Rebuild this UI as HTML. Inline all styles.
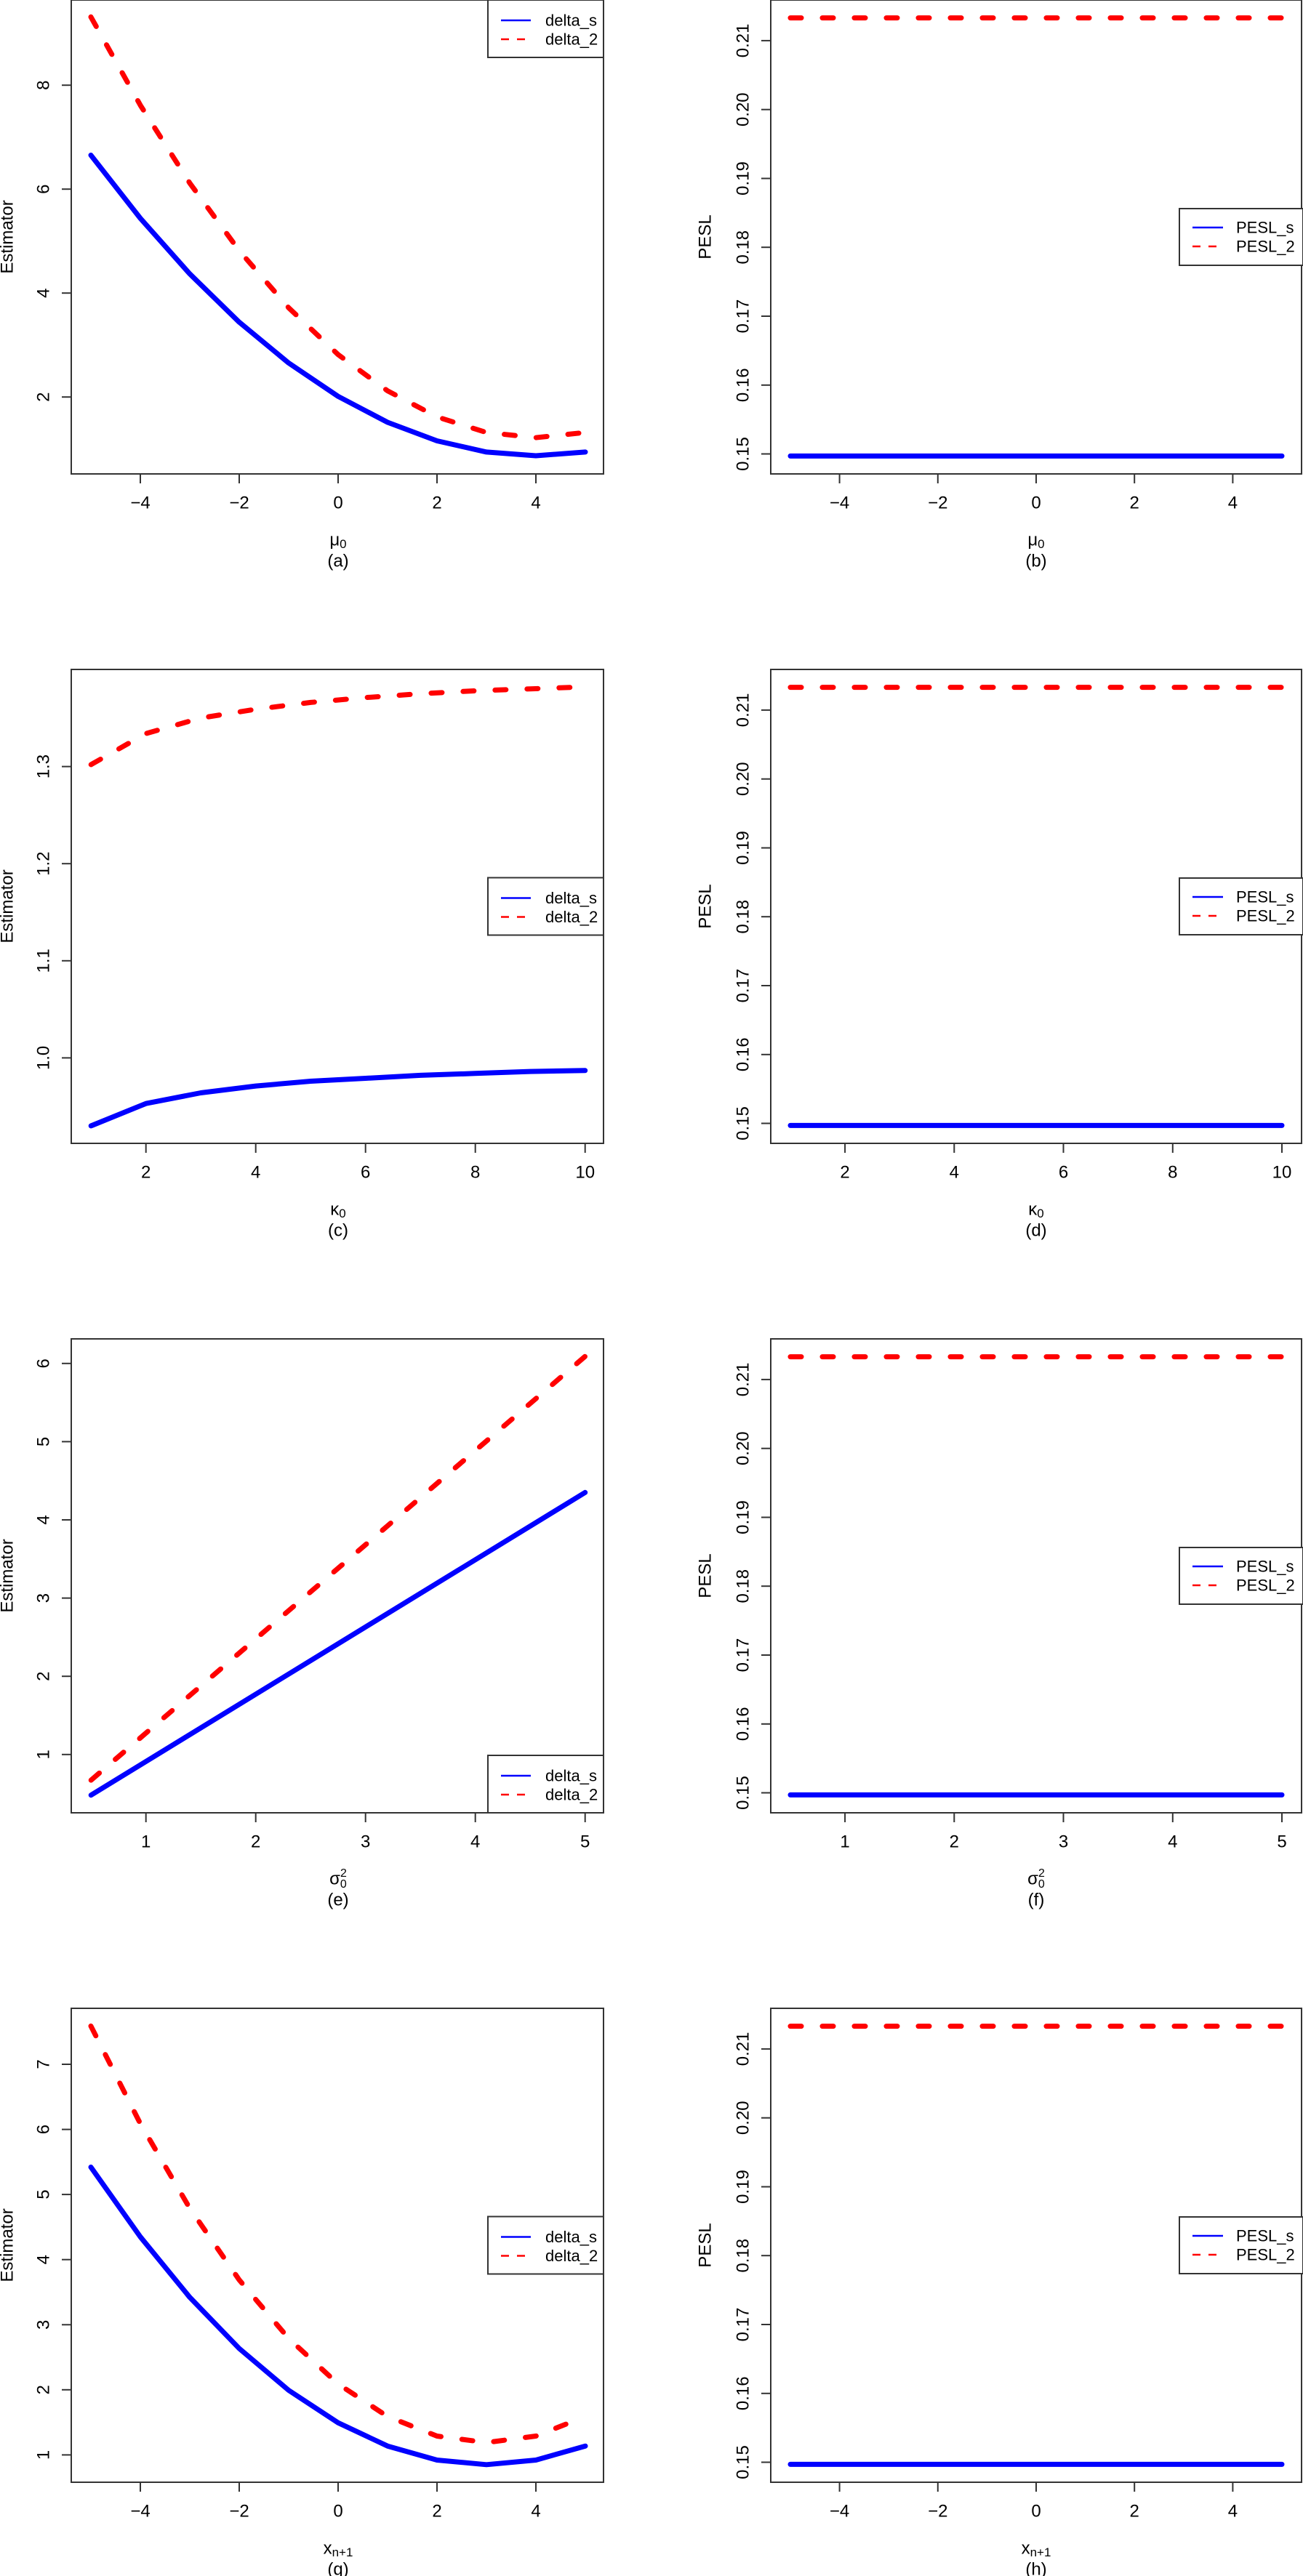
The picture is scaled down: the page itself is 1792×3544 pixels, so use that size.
<!DOCTYPE html>
<html><head><meta charset="utf-8"><style>
html,body{margin:0;padding:0;background:#fff}
svg{display:block}
text{font-family:"Liberation Sans",Arial,sans-serif;font-size:24px;fill:#000}
text.L{font-size:22px}
.ax{stroke:#333;stroke-width:2;fill:none}
.tk{stroke:#333;stroke-width:2}
.bl{stroke:#0000ff;stroke-width:7;fill:none;stroke-linejoin:round;stroke-linecap:round}
.rd{stroke:#ff0000;stroke-width:7;fill:none;stroke-linejoin:round;stroke-linecap:round;stroke-dasharray:15 29}
.lb{stroke:#0000ff;stroke-width:2.5}
.lr{stroke:#ff0000;stroke-width:2.5;stroke-dasharray:11 11}
.lg{fill:#fff;stroke:#333;stroke-width:2}
</style></head><body>
<svg width="1792" height="3544" viewBox="0 0 1792 3544" xmlns="http://www.w3.org/2000/svg">

<!-- ===== Row 1 ===== -->
<g transform="translate(0,0)">
 <rect class="ax" x="98" y="0" width="732" height="652"/>
 <g class="tk">
  <line x1="193" y1="652" x2="193" y2="665"/><line x1="329" y1="652" x2="329" y2="665"/><line x1="465" y1="652" x2="465" y2="665"/><line x1="601" y1="652" x2="601" y2="665"/><line x1="737" y1="652" x2="737" y2="665"/>
  <line x1="85" y1="546.2" x2="98" y2="546.2"/><line x1="85" y1="403.2" x2="98" y2="403.2"/><line x1="85" y1="260.2" x2="98" y2="260.2"/><line x1="85" y1="117.2" x2="98" y2="117.2"/>
 </g>
 <g text-anchor="middle" dominant-baseline="central">
  <text x="193" y="692">−4</text><text x="329" y="692">−2</text><text x="465" y="692">0</text><text x="601" y="692">2</text><text x="737" y="692">4</text>
  <text transform="translate(60,546.2) rotate(-90)">2</text><text transform="translate(60,403.2) rotate(-90)">4</text><text transform="translate(60,260.2) rotate(-90)">6</text><text transform="translate(60,117.2) rotate(-90)">8</text>
  <text transform="translate(10,326) rotate(-90)">Estimator</text>
  <text x="465" y="743">μ<tspan font-size="17" dy="5">0</tspan></text>
  <text x="465" y="772">(a)</text>
 </g>
 <polyline class="bl" points="125,213.5 193,300.3 261,376.8 329,443.2 397,499.4 465,545.3 533,581 601,606.5 669,621.9 737,627 805,621.9"/>
 <polyline class="rd" points="125,23.3 193,144.7 261,251.9 329,344.9 397,423.4 465,487.8 533,537.7 601,573.5 669,595 737,602.1 805,595"/>
 <rect class="lg" x="671" y="0" width="159" height="79"/>
 <line class="lb" x1="689" y1="28" x2="730" y2="28"/><line class="lr" x1="689" y1="54" x2="730" y2="54"/>
 <text class="L" x="750" y="28" dominant-baseline="central">delta_s</text><text class="L" x="750" y="54" dominant-baseline="central">delta_2</text>

 <!-- (b) -->
 <rect class="ax" x="1060" y="0" width="730" height="652"/>
 <g class="tk">
  <line x1="1154.6" y1="652" x2="1154.6" y2="665"/><line x1="1289.8" y1="652" x2="1289.8" y2="665"/><line x1="1425" y1="652" x2="1425" y2="665"/><line x1="1560.2" y1="652" x2="1560.2" y2="665"/><line x1="1695.4" y1="652" x2="1695.4" y2="665"/>
  <line x1="1047" y1="624.5" x2="1060" y2="624.5"/><line x1="1047" y1="529.8" x2="1060" y2="529.8"/><line x1="1047" y1="435" x2="1060" y2="435"/><line x1="1047" y1="340.2" x2="1060" y2="340.2"/><line x1="1047" y1="245.5" x2="1060" y2="245.5"/><line x1="1047" y1="150.7" x2="1060" y2="150.7"/><line x1="1047" y1="55.9" x2="1060" y2="55.9"/>
 </g>
 <g text-anchor="middle" dominant-baseline="central">
  <text x="1154.6" y="692">−4</text><text x="1289.8" y="692">−2</text><text x="1425" y="692">0</text><text x="1560.2" y="692">2</text><text x="1695.4" y="692">4</text>
  <text transform="translate(1022,624.5) rotate(-90)">0.15</text><text transform="translate(1022,529.8) rotate(-90)">0.16</text><text transform="translate(1022,435) rotate(-90)">0.17</text><text transform="translate(1022,340.2) rotate(-90)">0.18</text><text transform="translate(1022,245.5) rotate(-90)">0.19</text><text transform="translate(1022,150.7) rotate(-90)">0.20</text><text transform="translate(1022,55.9) rotate(-90)">0.21</text>
  <text transform="translate(970,326) rotate(-90)">PESL</text>
  <text x="1425" y="743">μ<tspan font-size="17" dy="5">0</tspan></text>
  <text x="1425" y="772">(b)</text>
 </g>
 <line class="bl" x1="1087" y1="627.4" x2="1763" y2="627.4"/>
 <line class="rd" x1="1087" y1="24.6" x2="1763" y2="24.6"/>
 <rect class="lg" x="1622" y="287" width="170" height="78"/>
 <line class="lb" x1="1640" y1="313" x2="1682" y2="313"/><line class="lr" x1="1640" y1="339" x2="1682" y2="339"/>
 <text class="L" x="1700" y="313" dominant-baseline="central">PESL_s</text><text class="L" x="1700" y="339" dominant-baseline="central">PESL_2</text>
</g>

<!-- ===== Row 2 ===== -->
<g transform="translate(0,921)">
 <rect class="ax" x="98" y="0" width="732" height="652"/>
 <g class="tk">
  <line x1="200.7" y1="652" x2="200.7" y2="665"/><line x1="351.7" y1="652" x2="351.7" y2="665"/><line x1="502.7" y1="652" x2="502.7" y2="665"/><line x1="653.7" y1="652" x2="653.7" y2="665"/><line x1="804.7" y1="652" x2="804.7" y2="665"/>
  <line x1="85" y1="534.4" x2="98" y2="534.4"/><line x1="85" y1="400.8" x2="98" y2="400.8"/><line x1="85" y1="267.2" x2="98" y2="267.2"/><line x1="85" y1="133.6" x2="98" y2="133.6"/>
 </g>
 <g text-anchor="middle" dominant-baseline="central">
  <text x="200.7" y="692">2</text><text x="351.7" y="692">4</text><text x="502.7" y="692">6</text><text x="653.7" y="692">8</text><text x="804.7" y="692">10</text>
  <text transform="translate(60,534.4) rotate(-90)">1.0</text><text transform="translate(60,400.8) rotate(-90)">1.1</text><text transform="translate(60,267.2) rotate(-90)">1.2</text><text transform="translate(60,133.6) rotate(-90)">1.3</text>
  <text transform="translate(10,326) rotate(-90)">Estimator</text>
  <text x="465" y="743">κ<tspan font-size="17" dy="5">0</tspan></text>
  <text x="465" y="772">(c)</text>
 </g>
 <polyline class="bl" points="125.2,627.9 200.7,597.2 276.2,582.5 351.7,573.1 427.2,566.5 502.7,562.5 578.2,558.4 653.7,555.8 729.2,553.1 804.7,551.8"/>
 <polyline class="rd" points="125.2,130.9 200.7,88.2 276.2,66.8 351.7,54.8 427.2,45.4 502.7,38.7 578.2,33.4 653.7,29.4 729.2,26.7 804.7,24"/>
 <rect class="lg" x="671" y="286.5" width="159" height="79"/>
 <line class="lb" x1="689" y1="314.5" x2="730" y2="314.5"/><line class="lr" x1="689" y1="340.5" x2="730" y2="340.5"/>
 <text class="L" x="750" y="314.5" dominant-baseline="central">delta_s</text><text class="L" x="750" y="340.5" dominant-baseline="central">delta_2</text>

 <!-- (d) -->
 <rect class="ax" x="1060" y="0" width="730" height="652"/>
 <g class="tk">
  <line x1="1162.1" y1="652" x2="1162.1" y2="665"/><line x1="1312.3" y1="652" x2="1312.3" y2="665"/><line x1="1462.5" y1="652" x2="1462.5" y2="665"/><line x1="1612.8" y1="652" x2="1612.8" y2="665"/><line x1="1763" y1="652" x2="1763" y2="665"/>
  <line x1="1047" y1="624.5" x2="1060" y2="624.5"/><line x1="1047" y1="529.8" x2="1060" y2="529.8"/><line x1="1047" y1="435" x2="1060" y2="435"/><line x1="1047" y1="340.2" x2="1060" y2="340.2"/><line x1="1047" y1="245.5" x2="1060" y2="245.5"/><line x1="1047" y1="150.7" x2="1060" y2="150.7"/><line x1="1047" y1="55.9" x2="1060" y2="55.9"/>
 </g>
 <g text-anchor="middle" dominant-baseline="central">
  <text x="1162.1" y="692">2</text><text x="1312.3" y="692">4</text><text x="1462.5" y="692">6</text><text x="1612.8" y="692">8</text><text x="1763" y="692">10</text>
  <text transform="translate(1022,624.5) rotate(-90)">0.15</text><text transform="translate(1022,529.8) rotate(-90)">0.16</text><text transform="translate(1022,435) rotate(-90)">0.17</text><text transform="translate(1022,340.2) rotate(-90)">0.18</text><text transform="translate(1022,245.5) rotate(-90)">0.19</text><text transform="translate(1022,150.7) rotate(-90)">0.20</text><text transform="translate(1022,55.9) rotate(-90)">0.21</text>
  <text transform="translate(970,326) rotate(-90)">PESL</text>
  <text x="1425" y="743">κ<tspan font-size="17" dy="5">0</tspan></text>
  <text x="1425" y="772">(d)</text>
 </g>
 <line class="bl" x1="1087" y1="627.4" x2="1763" y2="627.4"/>
 <line class="rd" x1="1087" y1="24.6" x2="1763" y2="24.6"/>
 <rect class="lg" x="1622" y="287" width="170" height="78"/>
 <line class="lb" x1="1640" y1="313" x2="1682" y2="313"/><line class="lr" x1="1640" y1="339" x2="1682" y2="339"/>
 <text class="L" x="1700" y="313" dominant-baseline="central">PESL_s</text><text class="L" x="1700" y="339" dominant-baseline="central">PESL_2</text>
</g>

<!-- ===== Row 3 ===== -->
<g transform="translate(0,1842)">
 <rect class="ax" x="98" y="0" width="732" height="652"/>
 <g class="tk">
  <line x1="200.7" y1="652" x2="200.7" y2="665"/><line x1="351.7" y1="652" x2="351.7" y2="665"/><line x1="502.7" y1="652" x2="502.7" y2="665"/><line x1="653.7" y1="652" x2="653.7" y2="665"/><line x1="804.7" y1="652" x2="804.7" y2="665"/>
  <line x1="85" y1="571.8" x2="98" y2="571.8"/><line x1="85" y1="464.2" x2="98" y2="464.2"/><line x1="85" y1="356.6" x2="98" y2="356.6"/><line x1="85" y1="249" x2="98" y2="249"/><line x1="85" y1="141.4" x2="98" y2="141.4"/><line x1="85" y1="33.8" x2="98" y2="33.8"/>
 </g>
 <g text-anchor="middle" dominant-baseline="central">
  <text x="200.7" y="692">1</text><text x="351.7" y="692">2</text><text x="502.7" y="692">3</text><text x="653.7" y="692">4</text><text x="804.7" y="692">5</text>
  <text transform="translate(60,571.8) rotate(-90)">1</text><text transform="translate(60,464.2) rotate(-90)">2</text><text transform="translate(60,356.6) rotate(-90)">3</text><text transform="translate(60,249) rotate(-90)">4</text><text transform="translate(60,141.4) rotate(-90)">5</text><text transform="translate(60,33.8) rotate(-90)">6</text>
  <text transform="translate(10,326) rotate(-90)">Estimator</text>
  <text x="465" y="743">σ<tspan font-size="16" dy="-8">2</tspan><tspan font-size="16" dx="-9" dy="15">0</tspan></text>
  <text x="465" y="772">(e)</text>
 </g>
 <polyline class="bl" points="125.2,627.7 804.7,211.3"/>
 <polyline class="rd" points="125.2,607.1 804.7,24.1"/>
 <rect class="lg" x="671" y="573" width="159" height="79"/>
 <line class="lb" x1="689" y1="601" x2="730" y2="601"/><line class="lr" x1="689" y1="627" x2="730" y2="627"/>
 <text class="L" x="750" y="601" dominant-baseline="central">delta_s</text><text class="L" x="750" y="627" dominant-baseline="central">delta_2</text>

 <!-- (f) -->
 <rect class="ax" x="1060" y="0" width="730" height="652"/>
 <g class="tk">
  <line x1="1162.1" y1="652" x2="1162.1" y2="665"/><line x1="1312.3" y1="652" x2="1312.3" y2="665"/><line x1="1462.5" y1="652" x2="1462.5" y2="665"/><line x1="1612.8" y1="652" x2="1612.8" y2="665"/><line x1="1763" y1="652" x2="1763" y2="665"/>
  <line x1="1047" y1="624.5" x2="1060" y2="624.5"/><line x1="1047" y1="529.8" x2="1060" y2="529.8"/><line x1="1047" y1="435" x2="1060" y2="435"/><line x1="1047" y1="340.2" x2="1060" y2="340.2"/><line x1="1047" y1="245.5" x2="1060" y2="245.5"/><line x1="1047" y1="150.7" x2="1060" y2="150.7"/><line x1="1047" y1="55.9" x2="1060" y2="55.9"/>
 </g>
 <g text-anchor="middle" dominant-baseline="central">
  <text x="1162.1" y="692">1</text><text x="1312.3" y="692">2</text><text x="1462.5" y="692">3</text><text x="1612.8" y="692">4</text><text x="1763" y="692">5</text>
  <text transform="translate(1022,624.5) rotate(-90)">0.15</text><text transform="translate(1022,529.8) rotate(-90)">0.16</text><text transform="translate(1022,435) rotate(-90)">0.17</text><text transform="translate(1022,340.2) rotate(-90)">0.18</text><text transform="translate(1022,245.5) rotate(-90)">0.19</text><text transform="translate(1022,150.7) rotate(-90)">0.20</text><text transform="translate(1022,55.9) rotate(-90)">0.21</text>
  <text transform="translate(970,326) rotate(-90)">PESL</text>
  <text x="1425" y="743">σ<tspan font-size="16" dy="-8">2</tspan><tspan font-size="16" dx="-9" dy="15">0</tspan></text>
  <text x="1425" y="772">(f)</text>
 </g>
 <line class="bl" x1="1087" y1="627.4" x2="1763" y2="627.4"/>
 <line class="rd" x1="1087" y1="24.6" x2="1763" y2="24.6"/>
 <rect class="lg" x="1622" y="287" width="170" height="78"/>
 <line class="lb" x1="1640" y1="313" x2="1682" y2="313"/><line class="lr" x1="1640" y1="339" x2="1682" y2="339"/>
 <text class="L" x="1700" y="313" dominant-baseline="central">PESL_s</text><text class="L" x="1700" y="339" dominant-baseline="central">PESL_2</text>
</g>

<!-- ===== Row 4 ===== -->
<g transform="translate(0,2763)">
 <rect class="ax" x="98" y="0" width="732" height="652"/>
 <g class="tk">
  <line x1="193" y1="652" x2="193" y2="665"/><line x1="329" y1="652" x2="329" y2="665"/><line x1="465" y1="652" x2="465" y2="665"/><line x1="601" y1="652" x2="601" y2="665"/><line x1="737" y1="652" x2="737" y2="665"/>
  <line x1="85" y1="614.4" x2="98" y2="614.4"/><line x1="85" y1="524.8" x2="98" y2="524.8"/><line x1="85" y1="435.3" x2="98" y2="435.3"/><line x1="85" y1="345.7" x2="98" y2="345.7"/><line x1="85" y1="256.1" x2="98" y2="256.1"/><line x1="85" y1="166.6" x2="98" y2="166.6"/><line x1="85" y1="77" x2="98" y2="77"/>
 </g>
 <g text-anchor="middle" dominant-baseline="central">
  <text x="193" y="692">−4</text><text x="329" y="692">−2</text><text x="465" y="692">0</text><text x="601" y="692">2</text><text x="737" y="692">4</text>
  <text transform="translate(60,614.4) rotate(-90)">1</text><text transform="translate(60,524.8) rotate(-90)">2</text><text transform="translate(60,435.3) rotate(-90)">3</text><text transform="translate(60,345.7) rotate(-90)">4</text><text transform="translate(60,256.1) rotate(-90)">5</text><text transform="translate(60,166.6) rotate(-90)">6</text><text transform="translate(60,77) rotate(-90)">7</text>
  <text transform="translate(10,326) rotate(-90)">Estimator</text>
  <text x="465" y="743">x<tspan font-size="17" dy="5">n+1</tspan></text>
  <text x="465" y="772">(g)</text>
 </g>
 <polyline class="bl" points="125,218.5 193,314.4 261,397.6 329,468 397,525.5 465,570.2 533,602.2 601,621.5 669,627.8 737,621.5 805,602.2"/>
 <polyline class="rd" points="125,24.4 193,158.6 261,275.1 329,373.6 397,454.2 465,516.8 533,561.5 601,588.5 669,597.4 737,588.5 805,561.5"/>
 <rect class="lg" x="671" y="286.5" width="159" height="79"/>
 <line class="lb" x1="689" y1="314.5" x2="730" y2="314.5"/><line class="lr" x1="689" y1="340.5" x2="730" y2="340.5"/>
 <text class="L" x="750" y="314.5" dominant-baseline="central">delta_s</text><text class="L" x="750" y="340.5" dominant-baseline="central">delta_2</text>

 <!-- (h) -->
 <rect class="ax" x="1060" y="0" width="730" height="652"/>
 <g class="tk">
  <line x1="1154.6" y1="652" x2="1154.6" y2="665"/><line x1="1289.8" y1="652" x2="1289.8" y2="665"/><line x1="1425" y1="652" x2="1425" y2="665"/><line x1="1560.2" y1="652" x2="1560.2" y2="665"/><line x1="1695.4" y1="652" x2="1695.4" y2="665"/>
  <line x1="1047" y1="624.5" x2="1060" y2="624.5"/><line x1="1047" y1="529.8" x2="1060" y2="529.8"/><line x1="1047" y1="435" x2="1060" y2="435"/><line x1="1047" y1="340.2" x2="1060" y2="340.2"/><line x1="1047" y1="245.5" x2="1060" y2="245.5"/><line x1="1047" y1="150.7" x2="1060" y2="150.7"/><line x1="1047" y1="55.9" x2="1060" y2="55.9"/>
 </g>
 <g text-anchor="middle" dominant-baseline="central">
  <text x="1154.6" y="692">−4</text><text x="1289.8" y="692">−2</text><text x="1425" y="692">0</text><text x="1560.2" y="692">2</text><text x="1695.4" y="692">4</text>
  <text transform="translate(1022,624.5) rotate(-90)">0.15</text><text transform="translate(1022,529.8) rotate(-90)">0.16</text><text transform="translate(1022,435) rotate(-90)">0.17</text><text transform="translate(1022,340.2) rotate(-90)">0.18</text><text transform="translate(1022,245.5) rotate(-90)">0.19</text><text transform="translate(1022,150.7) rotate(-90)">0.20</text><text transform="translate(1022,55.9) rotate(-90)">0.21</text>
  <text transform="translate(970,326) rotate(-90)">PESL</text>
  <text x="1425" y="743">x<tspan font-size="17" dy="5">n+1</tspan></text>
  <text x="1425" y="772">(h)</text>
 </g>
 <line class="bl" x1="1087" y1="627.4" x2="1763" y2="627.4"/>
 <line class="rd" x1="1087" y1="24.6" x2="1763" y2="24.6"/>
 <rect class="lg" x="1622" y="287" width="170" height="78"/>
 <line class="lb" x1="1640" y1="313" x2="1682" y2="313"/><line class="lr" x1="1640" y1="339" x2="1682" y2="339"/>
 <text class="L" x="1700" y="313" dominant-baseline="central">PESL_s</text><text class="L" x="1700" y="339" dominant-baseline="central">PESL_2</text>
</g>
</svg>
</body></html>
